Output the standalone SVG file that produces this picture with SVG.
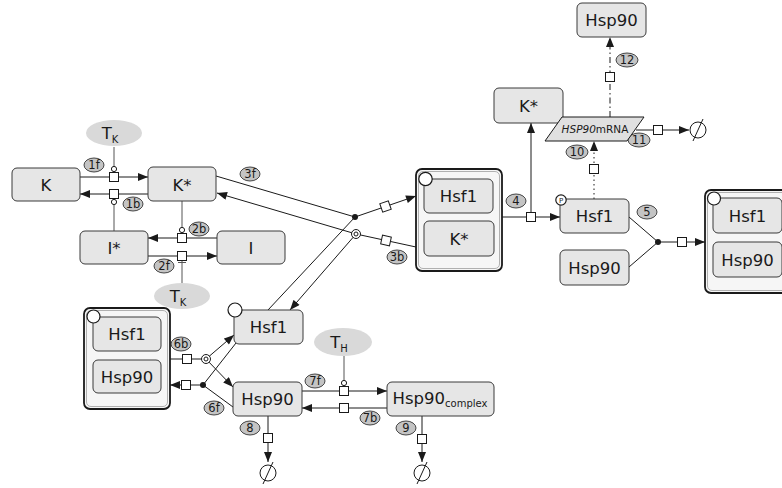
<svg xmlns="http://www.w3.org/2000/svg" width="782" height="488" viewBox="0 0 782 488">
  <style>
    .node { fill: #e6e6e6; stroke: #3a3a3a; stroke-width: 1; }
    .cplx { fill: #f6f6f6; stroke: #1a1a1a; stroke-width: 1.8; }
    .cplx-in { fill: none; stroke: #b0b0b0; stroke-width: 1; }
    .unit { fill: #ffffff; stroke: #1a1a1a; stroke-width: 1.2; }
    .txt { font-family: "DejaVu Sans", Verdana, sans-serif; font-size: 16.5px; fill: #1a1a1a; text-anchor: middle; }
    .sub { font-size: 10px; }
    .env { fill: #d9d9d9; stroke: none; }
    .lbl { fill: #c4c4c4; stroke: #333; stroke-width: 0.9; }
    .lbltxt { font-family: "DejaVu Sans", Verdana, sans-serif; font-size: 11.5px; fill: #1a1a1a; text-anchor: middle; }
    .edge { fill: none; stroke: #1a1a1a; stroke-width: 1; }
    .arr { marker-end: url(#arrow); }
    .mod { fill: none; stroke: #555; stroke-width: 1; }
    .pn { fill: #ffffff; stroke: #1a1a1a; stroke-width: 1; }
    .dot { fill: #1a1a1a; }
    .dotted { stroke-dasharray: 1.5 3; }
    .dashdot { stroke-dasharray: 6 3 1.5 3; }
  </style>
  <defs>
    <marker id="arrow" viewBox="0 0 10 8" refX="10" refY="4" markerWidth="11" markerHeight="8" markerUnits="userSpaceOnUse" orient="auto">
      <path d="M0,0 L10,4 L0,8 z" fill="#1a1a1a"/>
    </marker>
    <g id="sink">
      <circle cx="0" cy="0" r="8" fill="#ffffff" stroke="#1a1a1a" stroke-width="1"/>
      <line x1="-5" y1="11" x2="5" y2="-11" stroke="#1a1a1a" stroke-width="1"/>
    </g>
    <rect id="pnode" x="-4.5" y="-4.5" width="9" height="9" class="pn"/>
  </defs>

  <!-- connectors -->
  <g id="edges">
    <!-- 1f / 1b -->
    <line class="edge arr" x1="80" y1="177" x2="148" y2="177"/>
    <line class="mod" x1="114" y1="147" x2="114" y2="166"/>
    <circle cx="114" cy="169" r="2.6" class="pn"/>
    <use href="#pnode" x="114" y="177"/>
    <line class="edge arr" x1="148" y1="194" x2="80" y2="194"/>
    <line class="mod" x1="114" y1="205" x2="114" y2="231"/>
    <circle cx="114" cy="202" r="2.6" class="pn"/>
    <use href="#pnode" x="114" y="194"/>

    <!-- 2b / 2f -->
    <line class="edge arr" x1="217" y1="238" x2="148" y2="238"/>
    <line class="mod" x1="182" y1="201" x2="182" y2="227"/>
    <circle cx="182" cy="230" r="2.6" class="pn"/>
    <use href="#pnode" x="182" y="238"/>
    <line class="edge arr" x1="148" y1="256" x2="217" y2="256"/>
    <line class="mod" x1="182" y1="261" x2="182" y2="283"/>
    <line class="mod" x1="178" y1="262.5" x2="186" y2="262.5"/>
    <use href="#pnode" x="182" y="256"/>

    <!-- 3f -->
    <line class="edge" x1="216" y1="176" x2="355" y2="217"/>
    <line class="edge" x1="268" y1="310" x2="355" y2="217"/>
    <line class="edge arr" x1="355" y1="217" x2="416" y2="196"/>
    <circle cx="355" cy="217" r="3" class="dot"/>
    <use href="#pnode" transform="translate(385.5 206.5) rotate(-19)"/>

    <!-- 3b -->
    <line class="edge" x1="416" y1="247" x2="356" y2="234"/>
    <line class="edge arr" x1="356" y1="234" x2="217" y2="193"/>
    <line class="edge arr" x1="356" y1="234" x2="290" y2="310"/>
    <circle cx="356" cy="234" r="4.5" class="pn"/>
    <circle cx="356" cy="234" r="2" class="pn"/>
    <use href="#pnode" transform="translate(386 240.5) rotate(12)"/>

    <!-- 4 -->
    <line class="edge arr" x1="502" y1="217" x2="560" y2="217"/>
    <line class="edge arr" x1="531" y1="213" x2="531" y2="123"/>
    <use href="#pnode" x="531" y="217"/>

    <!-- 5 -->
    <line class="edge" x1="629" y1="217" x2="658" y2="242"/>
    <line class="edge" x1="629" y1="267" x2="658" y2="242"/>
    <line class="edge arr" x1="658" y1="242" x2="705" y2="242"/>
    <circle cx="658" cy="242" r="3" class="dot"/>
    <use href="#pnode" x="682" y="242"/>

    <!-- 10 -->
    <line class="edge dotted arr" x1="594" y1="199" x2="594" y2="141"/>
    <use href="#pnode" x="594" y="169"/>

    <!-- 11 -->
    <line class="edge arr" x1="636" y1="130" x2="689" y2="130"/>
    <use href="#pnode" x="658" y="130"/>
    <use href="#sink" x="698" y="130"/>

    <!-- 12 -->
    <line class="edge dashdot arr" x1="610" y1="117" x2="610" y2="37"/>
    <use href="#pnode" x="610" y="77"/>

    <!-- 6b -->
    <line class="edge" x1="170" y1="359" x2="206" y2="359"/>
    <line class="edge arr" x1="206" y1="359" x2="234" y2="335"/>
    <line class="edge arr" x1="206" y1="359" x2="233" y2="387"/>
    <use href="#pnode" x="187" y="359"/>
    <circle cx="206" cy="359" r="4.5" class="pn"/>
    <circle cx="206" cy="359" r="2" class="pn"/>

    <!-- 6f -->
    <line class="edge" x1="236" y1="343" x2="203" y2="385"/>
    <line class="edge" x1="233" y1="407" x2="203" y2="385"/>
    <line class="edge arr" x1="203" y1="385" x2="170" y2="385"/>
    <circle cx="203" cy="385" r="3" class="dot"/>
    <use href="#pnode" x="186" y="385"/>

    <!-- 7f / 7b -->
    <line class="edge arr" x1="302" y1="391" x2="387" y2="391"/>
    <line class="mod" x1="344" y1="356" x2="344" y2="380"/>
    <circle cx="344" cy="383" r="2.6" class="pn"/>
    <use href="#pnode" x="344" y="391"/>
    <line class="edge arr" x1="387" y1="408" x2="302" y2="408"/>
    <use href="#pnode" x="344" y="408"/>

    <!-- 8 -->
    <line class="edge arr" x1="268" y1="416" x2="268" y2="462"/>
    <use href="#pnode" x="268" y="438"/>
    <use href="#sink" x="268" y="473"/>

    <!-- 9 -->
    <line class="edge arr" x1="422" y1="416" x2="422" y2="462"/>
    <use href="#pnode" x="422" y="439"/>
    <use href="#sink" x="422" y="473"/>
  </g>

  <!-- reaction labels -->
  <g id="labels">
    <ellipse class="lbl" cx="94" cy="165" rx="10" ry="7"/><text class="lbltxt" x="94" y="169">1f</text>
    <ellipse class="lbl" cx="133" cy="204" rx="10" ry="7"/><text class="lbltxt" x="133" y="208">1b</text>
    <ellipse class="lbl" cx="199" cy="229" rx="10" ry="7"/><text class="lbltxt" x="199" y="233">2b</text>
    <ellipse class="lbl" cx="164" cy="266" rx="10" ry="7"/><text class="lbltxt" x="164" y="270">2f</text>
    <ellipse class="lbl" cx="250" cy="174" rx="10" ry="7"/><text class="lbltxt" x="250" y="178">3f</text>
    <ellipse class="lbl" cx="397" cy="257" rx="10" ry="7"/><text class="lbltxt" x="397" y="261">3b</text>
    <ellipse class="lbl" cx="516" cy="201" rx="10" ry="7"/><text class="lbltxt" x="516" y="205">4</text>
    <ellipse class="lbl" cx="647" cy="212" rx="10" ry="7"/><text class="lbltxt" x="647" y="216">5</text>
    <ellipse class="lbl" cx="181" cy="344" rx="10" ry="7"/><text class="lbltxt" x="181" y="348">6b</text>
    <ellipse class="lbl" cx="214" cy="408" rx="10" ry="7"/><text class="lbltxt" x="214" y="412">6f</text>
    <ellipse class="lbl" cx="315" cy="381" rx="10" ry="7"/><text class="lbltxt" x="315" y="385">7f</text>
    <ellipse class="lbl" cx="370" cy="418" rx="10" ry="7"/><text class="lbltxt" x="370" y="422">7b</text>
    <ellipse class="lbl" cx="250" cy="428" rx="10" ry="7"/><text class="lbltxt" x="250" y="432">8</text>
    <ellipse class="lbl" cx="406" cy="428" rx="10" ry="7"/><text class="lbltxt" x="406" y="432">9</text>
    <ellipse class="lbl" cx="577" cy="152" rx="11" ry="7"/><text class="lbltxt" x="577" y="156">10</text>
    <ellipse class="lbl" cx="639" cy="140" rx="11" ry="7"/><text class="lbltxt" x="639" y="144">11</text>
    <ellipse class="lbl" cx="627" cy="60" rx="11" ry="7"/><text class="lbltxt" x="627" y="64">12</text>
  </g>

  <!-- species -->
  <g id="K"><rect class="node" x="12" y="168" width="68" height="33" rx="5"/><text class="txt" x="46" y="190.5">K</text></g>
  <g id="Kstar"><rect class="node" x="148" y="167" width="68" height="34" rx="5"/><text class="txt" x="182" y="190.5">K*</text></g>
  <g id="Istar"><rect class="node" x="80" y="231" width="68" height="33" rx="5"/><text class="txt" x="114" y="253.5">I*</text></g>
  <g id="I"><rect class="node" x="217" y="231" width="68" height="33" rx="5"/><text class="txt" x="251" y="253.5">I</text></g>

  <g id="TK1"><ellipse class="env" cx="114" cy="133" rx="28" ry="13"/><text class="txt" x="110" y="139">T<tspan class="sub" dy="4">K</tspan></text></g>
  <g id="TK2"><ellipse class="env" cx="182" cy="296" rx="28" ry="13"/><text class="txt" x="178" y="302">T<tspan class="sub" dy="4">K</tspan></text></g>
  <g id="TH"><ellipse class="env" cx="343" cy="342" rx="29" ry="14"/><text class="txt" x="339" y="348">T<tspan class="sub" dy="4">H</tspan></text></g>

  <g id="Hsf1_Kstar">
    <rect class="cplx" x="416" y="169" width="86" height="102" rx="6"/>
    <rect class="cplx-in" x="418.5" y="171.5" width="81" height="97" rx="4.5"/>
    <rect class="node" x="424" y="179" width="69" height="34" rx="5"/><text class="txt" x="458.5" y="202">Hsf1</text>
    <rect class="node" x="424" y="221" width="70" height="35" rx="5"/><text class="txt" x="459" y="245">K*</text>
    <circle class="unit" cx="425.5" cy="179" r="6.7"/>
  </g>

  <g id="Kstar_top"><rect class="node" x="494" y="88" width="69" height="35" rx="5"/><text class="txt" x="528.5" y="111.5">K*</text></g>

  <g id="HSP90mRNA">
    <polygon points="562,117 644,117 627,141 545,141" fill="#e0e0e0" stroke="#1a1a1a" stroke-width="1"/>
    <text x="595" y="133" font-family="DejaVu Sans, Verdana, sans-serif" font-size="10.5" fill="#1a1a1a" text-anchor="middle"><tspan font-style="italic">HSP90</tspan>mRNA</text>
  </g>

  <g id="Hsp90_top"><rect class="node" x="577" y="3" width="69" height="34" rx="5"/><text class="txt" x="611.5" y="26">Hsp90</text></g>

  <g id="Hsf1P">
    <rect class="node" x="560" y="199" width="69" height="34" rx="5"/><text class="txt" x="594.5" y="222">Hsf1</text>
    <circle class="unit" cx="561" cy="200" r="5.2" stroke-width="0.9"/>
    <text x="561" y="202.6" font-family="DejaVu Sans, sans-serif" font-size="7" fill="#1a1a1a" text-anchor="middle">P</text>
  </g>

  <g id="Hsp90_mid"><rect class="node" x="560" y="250" width="69" height="35" rx="5"/><text class="txt" x="594.5" y="273.5">Hsp90</text></g>

  <g id="Hsf1_Hsp90_right">
    <rect class="cplx" x="705" y="190" width="86" height="103" rx="6"/>
    <rect class="cplx-in" x="707.5" y="192.5" width="81" height="98" rx="4.5"/>
    <rect class="node" x="713" y="198" width="69" height="35" rx="5"/><text class="txt" x="747.5" y="222">Hsf1</text>
    <rect class="node" x="713" y="242" width="69" height="35" rx="5"/><text class="txt" x="747.5" y="266">Hsp90</text>
    <circle class="unit" cx="714" cy="198.5" r="6.5"/>
  </g>

  <g id="Hsf1_free">
    <rect class="node" x="234" y="310" width="69" height="34" rx="5"/><text class="txt" x="268.5" y="333">Hsf1</text>
    <circle class="unit" cx="235" cy="310" r="7"/>
  </g>

  <g id="Hsf1_Hsp90_left">
    <rect class="cplx" x="84" y="308" width="86" height="101" rx="6"/>
    <rect class="cplx-in" x="86.5" y="310.5" width="81" height="96" rx="4.5"/>
    <rect class="node" x="93" y="317" width="68" height="34" rx="5"/><text class="txt" x="127" y="340">Hsf1</text>
    <rect class="node" x="93" y="360" width="68" height="33" rx="5"/><text class="txt" x="127" y="382.5">Hsp90</text>
    <circle class="unit" cx="93.5" cy="316.5" r="6.5"/>
  </g>

  <g id="Hsp90_free"><rect class="node" x="233" y="382" width="69" height="34" rx="5"/><text class="txt" x="267.5" y="405">Hsp90</text></g>

  <g id="Hsp90_complex">
    <rect class="node" x="387" y="382" width="107" height="34" rx="5"/>
    <text class="txt" x="440" y="404">Hsp90<tspan class="sub" font-size="11px" dy="3">complex</tspan></text>
  </g>
</svg>
